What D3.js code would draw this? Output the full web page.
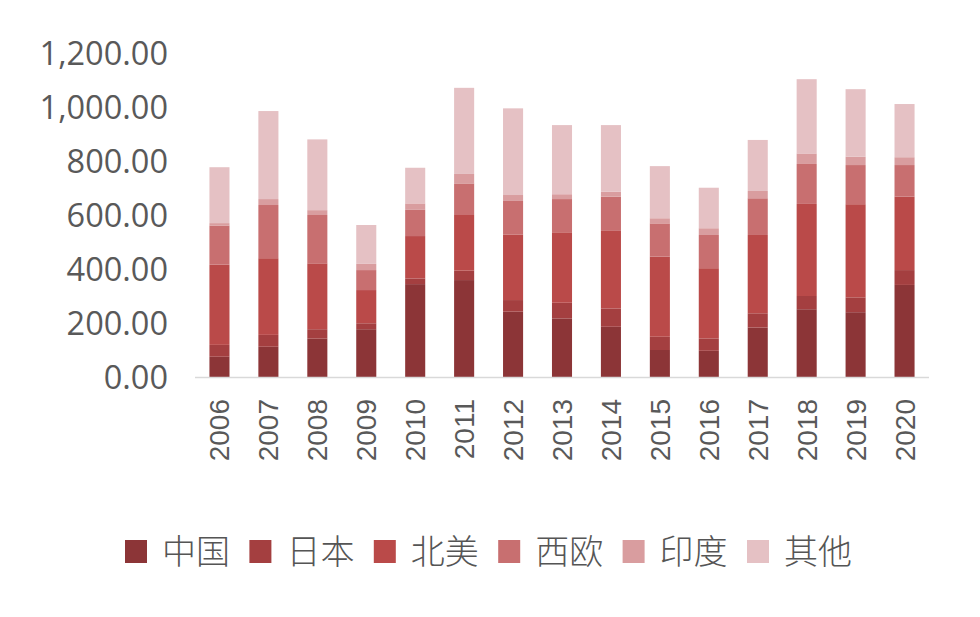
<!DOCTYPE html>
<html><head><meta charset="utf-8">
<script src="https://cdn.jsdelivr.net/npm/d3@7"></script>
<style>body{margin:0;background:#fff}svg{display:block}</style>
</head><body>
<svg id="c" width="980" height="617"></svg>
<script>
const years = ["2006","2007","2008","2009","2010","2011","2012","2013","2014","2015","2016","2017","2018","2019","2020"];
const seriesNames = ["中国","日本","北美","西欧","印度","其他"];
const china  = [75,112,142,177,344,359,242,217,186,100,97,183,251,240,341];
const japan  = [44,44,35,22,21,35,43,58,68,49,46,53,49,55,55];
const namer  = [297,284,244,123,157,206,243,261,287,297,260,290,341,345,272];
const weurope= [145,197,179,74,97,117,124,123,127,123,123,136,148,145,117];
const india  = [9,22,18,23,24,35,22,18,18,19,25,27,39,31,29];
const others = [207,326,262,144,132,319,321,256,247,193,150,189,275,250,197];
const yTicks = [0,200,400,600,800,1000,1200];
const colors = ["#8c3537","#a43f40","#ba4a49","#c86f70","#d99d9f","#e5c1c4"];

const seriesData = [china,japan,namer,weurope,india,others];
const rows = years.map((y,i)=>{const r={year:y};seriesNames.forEach((s,k)=>r[s]=seriesData[k][i]);return r;});
const stack = d3.stack().keys(seriesNames)(rows);

const svg = d3.select("#c");
const x = d3.scaleBand().domain(years).range([195,929]).paddingInner(0.59).paddingOuter(0.295);
const y = d3.scaleLinear().domain([0,1200]).range([377,53]);

// bars
svg.append("g").selectAll("g").data(stack).join("g")
  .attr("fill",(d,i)=>colors[i])
  .selectAll("rect").data(d=>d).join("rect")
  .attr("x",d=>x(d.data.year)).attr("width",x.bandwidth())
  .attr("y",d=>y(d[1])).attr("height",d=>y(d[0])-y(d[1]));

// axis line
svg.append("line").attr("x1",195).attr("x2",929).attr("y1",y(0)+0.5).attr("y2",y(0)+0.5)
  .attr("stroke","#d9d9d9").attr("stroke-width",1.5);

// y labels
const fmt = d3.format(",.2f");
svg.append("g").selectAll("text").data(yTicks).join("text")
  .attr("x",168).attr("y",d=>y(d)).attr("dy","0.36em").attr("text-anchor","end")
  .attr("font-family","'Open Sans',sans-serif").attr("font-size",32.5).attr("fill","#595959")
  .text(d=>fmt(d));

// x labels rotated
svg.append("g").selectAll("text").data(years).join("text")
  .attr("transform",d=>`translate(${x(d)+x.bandwidth()/2+10},399) rotate(-90)`)
  .attr("text-anchor","end")
  .attr("font-family","'Liberation Sans',Arial,sans-serif").attr("font-size",28).attr("fill","#595959")
  .text(d=>d);

// legend
const lg = svg.append("g").selectAll("g").data(seriesNames).join("g")
  .attr("transform",(d,i)=>`translate(${125+i*124.4},540)`);
lg.append("rect").attr("width",22).attr("height",23).attr("fill",(d,i)=>colors[i]);
lg.append("text").attr("x",37).attr("y",24)
  .attr("font-family","'Noto Sans CJK SC',sans-serif").attr("font-weight",300).attr("font-size",34).attr("fill","#555555")
  .text(d=>d);
</script>
</body></html>
